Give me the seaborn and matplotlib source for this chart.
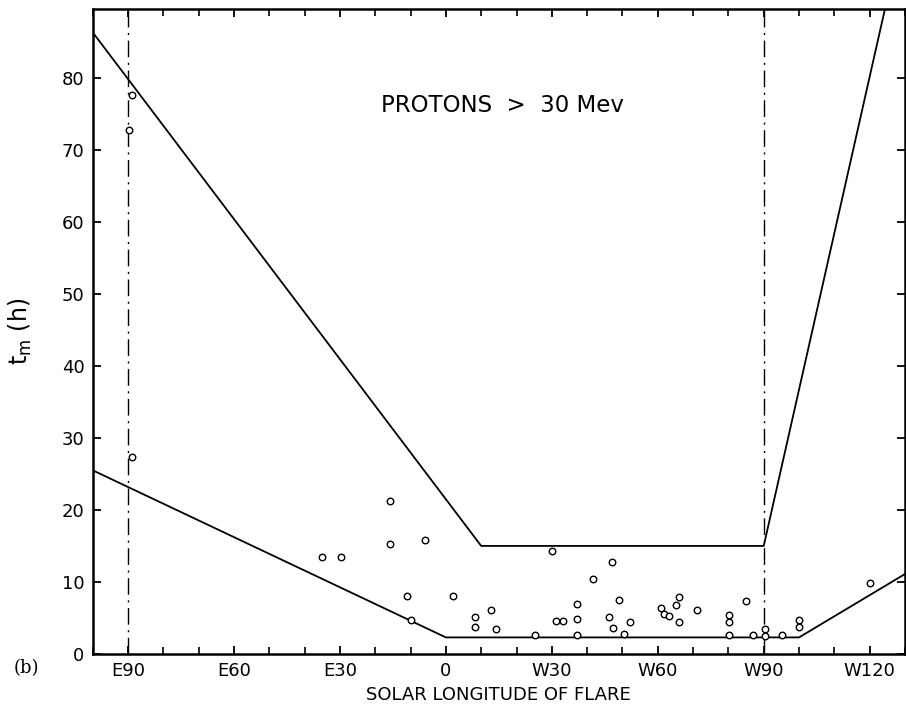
import matplotlib
matplotlib.use("Agg")
import matplotlib.pyplot as plt
import seaborn as sns
import pandas as pd
from matplotlib.ticker import MultipleLocator

# ---- data (longitude: negative = East, positive = West) ----
pt_lon = [-88.9, -89.6, -89.0,
          -35.2, -29.7, -15.9, -15.7, -5.9, -10.9, -9.8, 2.0, 8.2, 8.2, 12.8, 14.2,
          25.1, 30.1, 31.1, 33.1, 37.2, 37.2, 37.2, 41.8,
          47.1, 49.1, 46.3, 47.2, 50.4, 52.0, 60.9, 61.8, 63.1, 65.2, 66.1, 66.1,
          71.1, 80.1, 80.1, 80.1, 85.0, 87.1, 90.3, 90.3, 95.1, 100.1, 100.1, 120.1]
pt_tm = [77.6, 72.8, 27.4,
         13.5, 13.4, 21.2, 15.2, 15.8, 8.1, 4.7, 8.1, 5.1, 3.8, 6.1, 3.4,
         2.7, 14.3, 4.6, 4.6, 7.0, 4.8, 2.7, 10.4,
         12.7, 7.5, 5.1, 3.6, 2.8, 4.4, 6.4, 5.6, 5.3, 6.8, 7.9, 4.4,
         6.1, 5.4, 4.4, 2.7, 7.4, 2.6, 3.4, 2.5, 2.6, 4.7, 3.8, 9.9]

upper_lon = [-100, 10, 90, 125]
upper_tm = [86.3, 15.0, 15.0, 91.0]
lower_lon = [-100, 0, 100, 130]
lower_tm = [25.5, 2.3, 2.3, 11.1]

limb_lon = [-90, 90]

xtick_pos = [-90, -60, -30, 0, 30, 60, 90, 120]
xtick_lab = ["E90", "E60", "E30", "0", "W30", "W60", "W90", "W120"]
ytick_pos = [0, 10, 20, 30, 40, 50, 60, 70, 80]

sns.set_style("ticks")
plt.rcParams['font.family'] = ['DejaVu Sans']
plt.rcParams['text.color'] = 'black'
plt.rcParams['axes.labelcolor'] = 'black'
plt.rcParams['xtick.color'] = 'black'
plt.rcParams['ytick.color'] = 'black'

fig = plt.figure(figsize=(9.06, 7.12), dpi=100)
ax = fig.add_axes([0.1023, 0.0815, 0.8966, 0.9055])

df_up = pd.DataFrame({"lon": upper_lon, "tm": upper_tm})
df_lo = pd.DataFrame({"lon": lower_lon, "tm": lower_tm})
sns.lineplot(data=df_up, x="lon", y="tm", sort=False, color="black", lw=1.3, ax=ax)
sns.lineplot(data=df_lo, x="lon", y="tm", sort=False, color="black", lw=1.3, ax=ax)

for xv in limb_lon:
    ax.axvline(xv, color="black", lw=1.0, linestyle=(0, (12, 4, 1.5, 4)))

df_pt = pd.DataFrame({"lon": pt_lon, "tm": pt_tm})
sns.scatterplot(data=df_pt, x="lon", y="tm", ax=ax, s=22, facecolor="white",
                edgecolor="black", linewidth=1.0, zorder=5)

ax.set_xlim(-100, 130)
ax.set_ylim(0, 89.5)
ax.set_xticks(xtick_pos)
ax.set_xticklabels(xtick_lab)
ax.xaxis.set_minor_locator(MultipleLocator(10))
ax.set_yticks(ytick_pos)
ax.tick_params(axis="both", which="major", direction="in", length=6, width=1.3,
               top=True, right=True, labelsize=13, pad=6, colors="black")
ax.tick_params(axis="x", which="minor", direction="in", length=5, width=1.2,
               top=True, bottom=True, colors="black")
for s in ax.spines.values():
    s.set_linewidth(1.8)
    s.set_color("black")

ax.set_xlabel("SOLAR LONGITUDE OF FLARE", fontsize=13, labelpad=4, color="black")
ax.set_ylabel(r"$\mathregular{t_m}$ (h)", fontsize=17, labelpad=20, color="black")
ax.text(16, 76.2, "PROTONS  >  30 Mev", ha="center", va="center", fontsize=16.5,
        color="black")
fig.text(0.015, 0.062, "(b)", fontsize=13, ha="left", va="center",
         family="DejaVu Serif", color="black")

fig.savefig("out.png", dpi=100)
